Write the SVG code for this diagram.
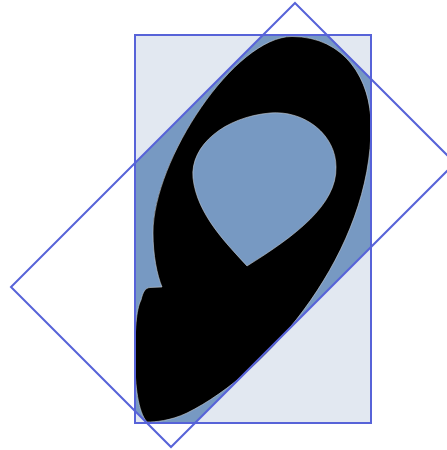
<svg xmlns="http://www.w3.org/2000/svg" width="447" height="450" viewBox="0 0 447 450">
  <style>
    .outline { fill: none; stroke: #5763d8; stroke-width: 2; }
    .light { fill: #e2e8f1; }
    .dark { fill: #7799c2; }
    .blob { fill: #000000; stroke: #c8ccd2; stroke-width: 0.6; }
    .hole { fill: #7799c2; stroke: #c8ccd2; stroke-width: 0.6; }
  </style>
  <defs>
    <clipPath id="rectClip">
      <rect x="135" y="35" width="236" height="388"/>
    </clipPath>
  </defs>
  <g id="bounding-box">
    <rect class="light" x="135" y="35" width="236" height="388"/>
  </g>
  <g id="rotated-box-fill">
    <polygon class="dark" clip-path="url(#rectClip)" points="295,3 455,163 171,447 11,287"/>
  </g>
  <g id="shape">
    <path class="blob" d="M 292,36.5 C 345,36.5 371,80 371,125 C 372,250 270,372 187,413 C 170,421 155,422 147,422 C 138,412 135,385 135,360 C 135,330 136,310 141,300 C 143,292 145,288 150,287.5 L 162,287 C 157,275 153,255 153,233 C 153,160 235,36.5 292,36.5 Z"/>
    <path class="hole" d="M 247,266 C 228,245 197,215 193,178 C 190,145 225,117 270,113 C 305,110 336,135 336,167 C 337,205 295,236 247,266 Z"/>
  </g>
  <g id="outlines">
    <rect class="outline" x="135" y="35" width="236" height="388"/>
    <polygon class="outline" points="295,3 455,163 171,447 11,287"/>
  </g>
</svg>
